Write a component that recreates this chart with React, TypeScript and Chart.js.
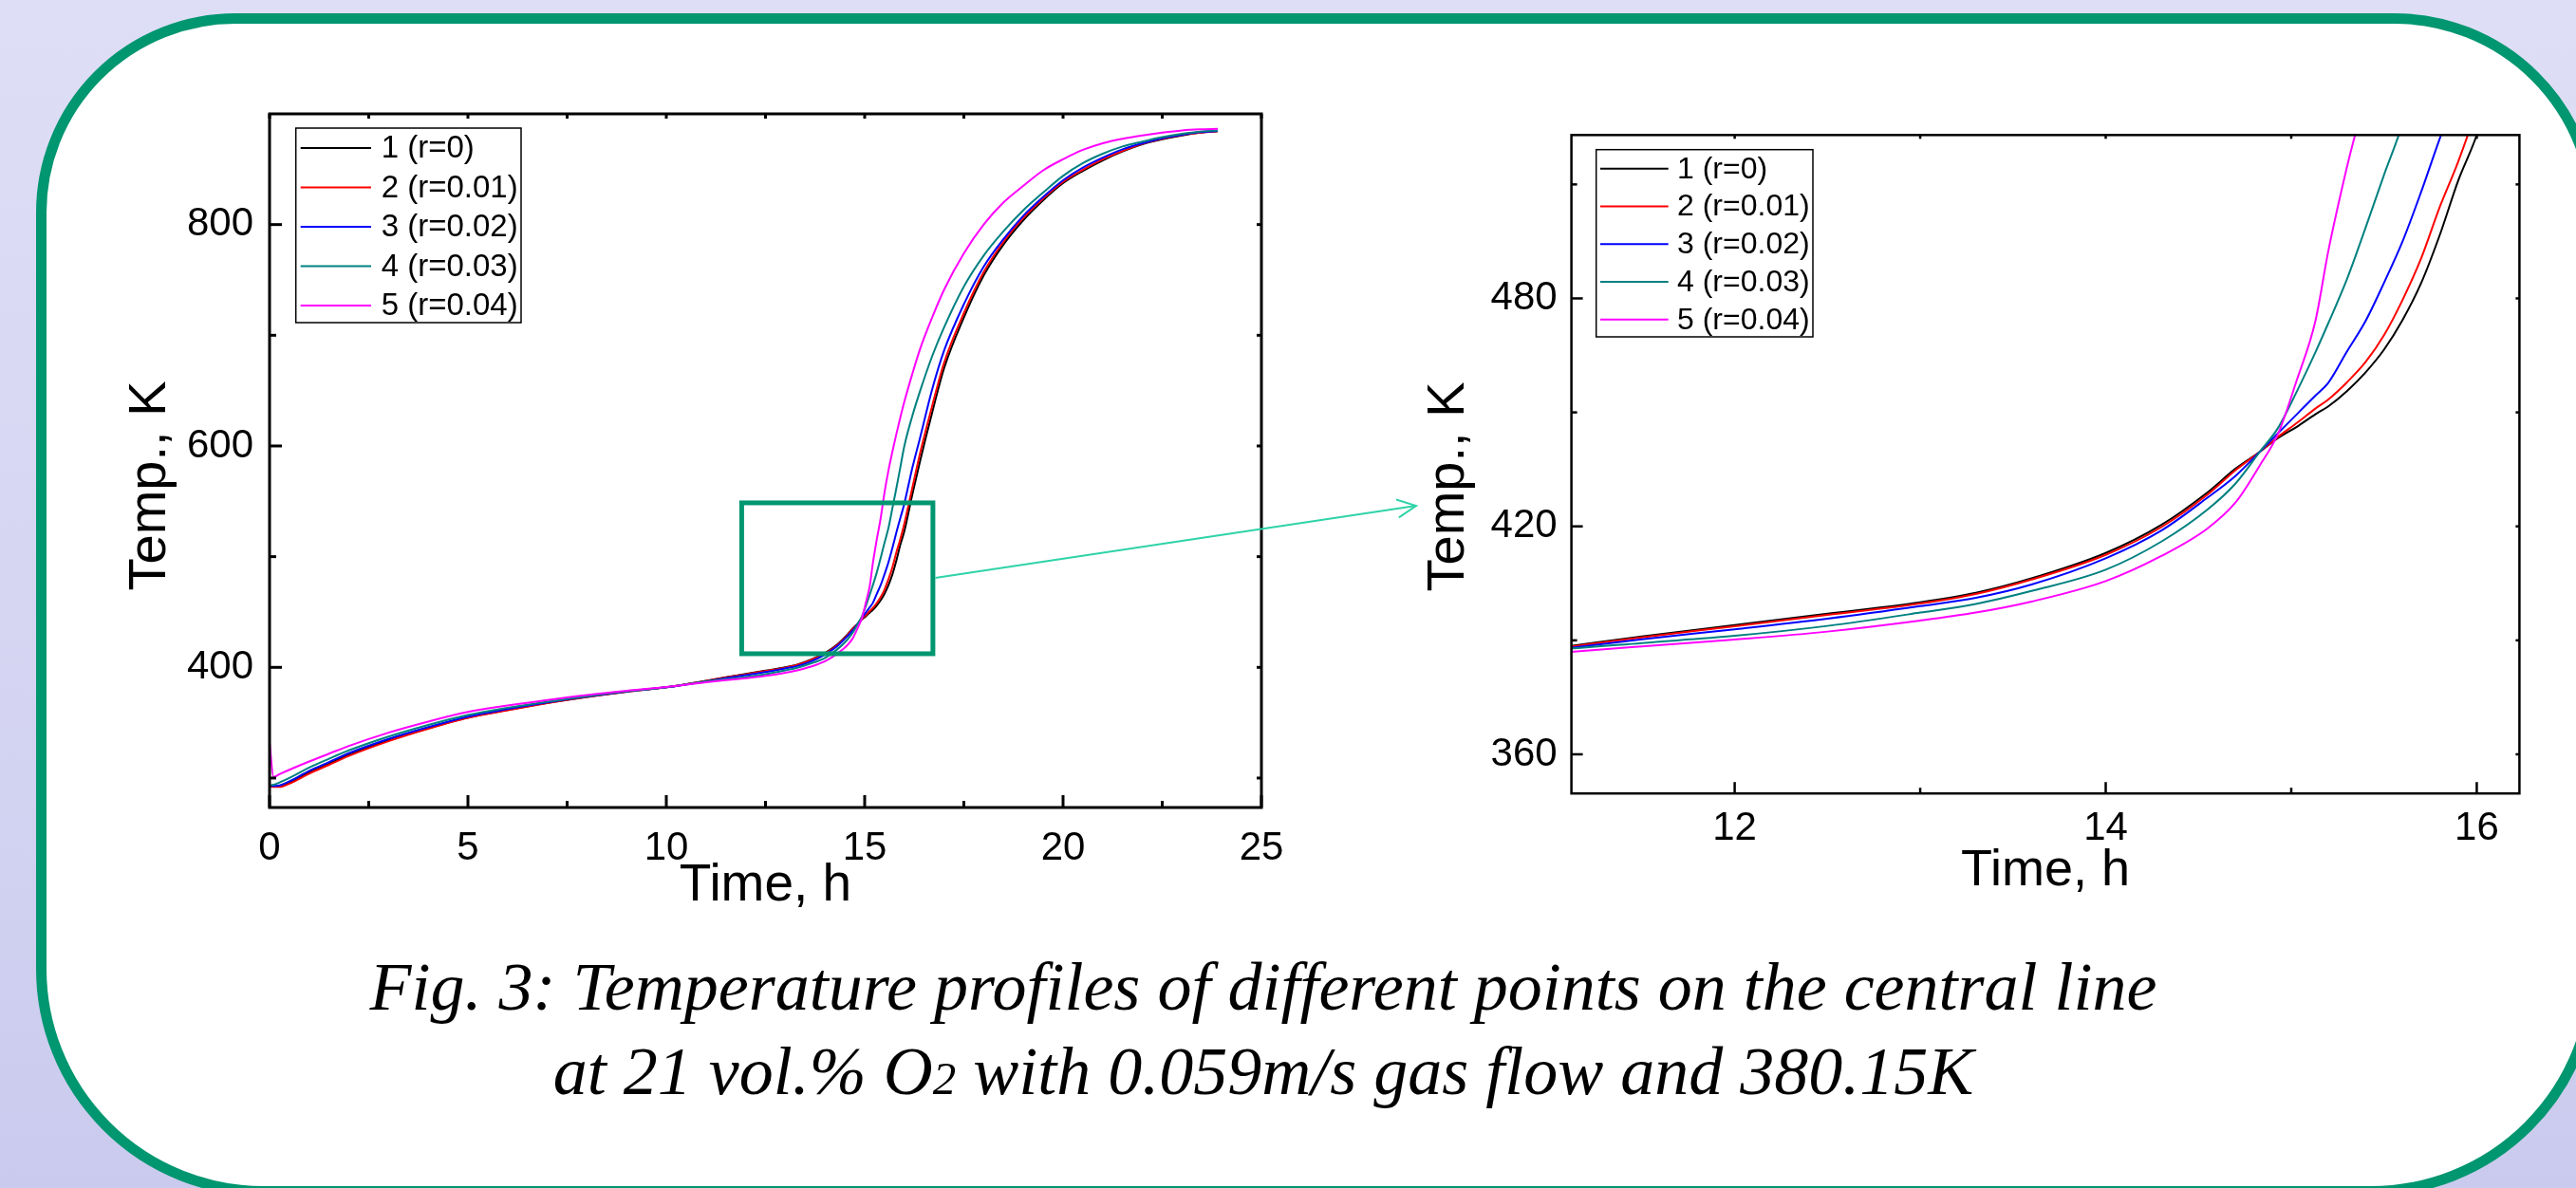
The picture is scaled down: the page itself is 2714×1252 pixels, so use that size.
import React, { useEffect, useRef } from 'react';
import { Chart, registerables } from 'chart.js';

Chart.register(...registerables);

// ---------------- data ----------------
const seriesLabels = ['1 (r=0)', '2 (r=0.01)', '3 (r=0.02)', '4 (r=0.03)', '5 (r=0.04)'];
const seriesColors = ['#000000', '#ff0000', '#0000ff', '#008080', '#ff00ff'];

const timeH = [0, 0.1, 0.25, 0.5, 1, 1.5, 2, 3, 4, 5, 6, 7, 8, 9, 10, 11, 11.5, 12, 12.5, 13, 13.3, 13.6, 14, 14.3, 14.55, 14.7, 14.83, 14.93, 15.03, 15.13, 15.2, 15.3, 15.4, 15.5, 15.6, 15.7, 15.8, 15.9, 16, 16.2, 16.4, 16.7, 17, 17.5, 18, 18.5, 19, 19.5, 20, 20.5, 21, 21.5, 22, 22.5, 23, 23.45, 23.9];

const tempR0 = [293, 292.5, 292.5, 295.5, 305, 313, 321, 334, 345, 354.7, 361.5, 367.8, 373.3, 378, 382, 387.8, 391, 394, 397, 400, 402.5, 406.3, 413, 420.4, 429, 435.2, 439.6, 443.3, 446.2, 449.5, 451.6, 455.6, 460.5, 466.5, 474.3, 484, 496.6, 511, 523, 556, 587, 630, 670, 716, 754, 782, 804, 822, 837.4, 848.5, 858, 866, 872.5, 877, 880.5, 883, 884.3];
const tempR001 = [292.5, 292, 292, 295, 304, 312, 320, 333.3, 344.5, 354.3, 361.2, 367.6, 373.2, 378, 382, 387.6, 390.8, 393.7, 396.7, 399.7, 402.2, 406, 412.5, 419.8, 428.4, 434.8, 439.6, 443.6, 447.2, 451, 453.4, 457.9, 463.2, 470.3, 479.6, 490.5, 504, 516, 530, 562, 594, 636, 675, 720, 757, 784.5, 806, 823.5, 838.5, 849.5, 859, 866.5, 873, 877.5, 881, 883, 884.4];
const tempR002 = [293, 292.8, 293.3, 297, 306.5, 314.5, 322.5, 335.3, 346, 355.5, 362.3, 368.3, 373.6, 378.2, 382, 387.3, 390.3, 392.9, 395.7, 399, 401.2, 404.7, 411.6, 418.9, 427.6, 433.3, 439.6, 444.6, 449.5, 454.4, 457.8, 466, 474, 484.1, 495, 508, 522, 535, 548, 580, 608, 651, 686, 728, 762, 787, 808, 825, 840, 851.5, 860.5, 868, 873.5, 878, 881.2, 883.4, 884.6];
const tempR003 = [293.5, 294, 296, 300, 309.5, 317.5, 325, 337.5, 348, 357, 363.5, 369, 374, 378.3, 382, 387.3, 389.3, 391.2, 393.8, 397.3, 399.6, 403, 408.6, 416, 424.5, 431.3, 439.6, 446, 455.5, 465.8, 473.5, 485, 498.5, 512.5, 526, 544, 562, 581, 600, 627, 650, 681, 707, 744, 772, 794, 813, 829, 844, 855.5, 864, 870.5, 875, 879, 882, 884, 885];
const tempR004 = [332, 301, 303.5, 307.5, 315, 322, 329, 341, 351, 359.7, 365.5, 370.5, 375, 378.8, 382.2, 386.5, 388.4, 390.2, 392.3, 395.2, 397.3, 400.2, 405.6, 412.2, 419.5, 426.3, 436, 444.5, 458.5, 474, 492.5, 514.5, 534, 558, 578, 595, 611, 626, 640, 665, 688, 716, 741, 774, 800, 820, 835, 849, 859, 867.5, 873.5, 877.5, 880.5, 883, 885, 886, 886.5];

const seriesValues = [tempR0, tempR001, tempR002, tempR003, tempR004];

// axes
const leftXRange = [0, 25];
const leftYRange = [273.4, 900];
const leftXTicks = [0, 5, 10, 15, 20, 25];
const leftXMinor = [2.5, 7.5, 12.5, 17.5, 22.5];
const leftYTicks = [400, 600, 800];
const leftYMinor = [300, 500, 700];

const rightXRange = [11.12, 16.23];
const rightYRange = [349.7, 523];
const rightXTicks = [12, 14, 16];
const rightXMinor = [13, 15];
const rightYTicks = [360, 420, 480];
const rightYMinor = [390, 450, 510];

// zoom window marked on the overview chart (time h, temperature K)
const zoomBoxTime = [11.9, 16.72];
const zoomBoxTemp = [412.3, 548.6];
const arrowFromTemp = 480.9;

const xTitle = 'Time, h';
const yTitle = 'Temp., K';
const captionLine1 = 'Fig. 3: Temperature profiles of different points on the central line';
const captionLine2a = 'at 21 vol.% O';
const captionLine2b = '2';
const captionLine2c = ' with 0.059m/s gas flow and 380.15K';

// ---------------- helpers ----------------
const SANS = "'Liberation Sans', Arial, Helvetica, sans-serif";
const GREEN = '#009670';

function buildDatasets() {
  return seriesValues.map((vals, i) => ({
    label: seriesLabels[i],
    data: timeH.map((t, k) => ({ x: t, y: vals[k] })),
    borderColor: seriesColors[i],
    backgroundColor: seriesColors[i],
    borderWidth: 2,
    pointRadius: 0,
    fill: false,
    cubicInterpolationMode: 'monotone' as const,
    clip: 0,
    order: 5 - i,
  }));
}

function framePlugin(cfg: any) {
  return {
    id: 'originFrame',
    afterDatasetsDraw(chart: any) {
      const { ctx, chartArea } = chart;
      const { left, right, top, bottom } = chartArea;
      const xs = chart.scales.x;
      const ys = chart.scales.y;
      ctx.save();
      ctx.strokeStyle = '#000';
      ctx.lineWidth = cfg.lineWidth;
      ctx.lineCap = 'butt';
      ctx.strokeRect(left, top, right - left, bottom - top);
      const seg = (x1: number, y1: number, x2: number, y2: number) => {
        ctx.beginPath();
        ctx.moveTo(x1, y1);
        ctx.lineTo(x2, y2);
        ctx.stroke();
      };
      cfg.xMajor.forEach((v: number) => {
        const p = xs.getPixelForValue(v);
        if (p < left - 1 || p > right + 1) return;
        seg(p, bottom, p, bottom - cfg.major);
        seg(p, top, p, top + cfg.mirror);
      });
      cfg.xMinor.forEach((v: number) => {
        const p = xs.getPixelForValue(v);
        seg(p, bottom, p, bottom - cfg.minor);
        seg(p, top, p, top + cfg.mirror);
      });
      cfg.yMajor.forEach((v: number) => {
        const p = ys.getPixelForValue(v);
        seg(left, p, left + cfg.major, p);
        seg(right, p, right - cfg.mirror, p);
      });
      cfg.yMinor.forEach((v: number) => {
        const p = ys.getPixelForValue(v);
        seg(left, p, left + cfg.minor, p);
        seg(right, p, right - cfg.mirror, p);
      });
      ctx.restore();
    },
  };
}

function legendPlugin(cfg: any) {
  return {
    id: 'boxLegend',
    afterDraw(chart: any) {
      const { ctx, chartArea } = chart;
      const x0 = chartArea.left + cfg.dx;
      const y0 = chartArea.top + cfg.dy;
      ctx.save();
      ctx.fillStyle = '#ffffff';
      ctx.fillRect(x0, y0, cfg.w, cfg.h);
      ctx.strokeStyle = '#000';
      ctx.lineWidth = 1.5;
      ctx.strokeRect(x0, y0, cfg.w, cfg.h);
      ctx.font = `${cfg.fontSize}px ${SANS}`;
      ctx.textBaseline = 'middle';
      ctx.textAlign = 'left';
      chart.data.datasets.forEach((ds: any, i: number) => {
        const yy = y0 + cfg.firstRow + i * cfg.rowGap;
        ctx.strokeStyle = ds.borderColor;
        ctx.lineWidth = 2;
        ctx.beginPath();
        ctx.moveTo(x0 + cfg.lineX0, yy);
        ctx.lineTo(x0 + cfg.lineX1, yy);
        ctx.stroke();
        ctx.fillStyle = '#000';
        ctx.fillText(ds.label, x0 + cfg.textX, yy + 1);
      });
      ctx.restore();
    },
  };
}

function yTitlePlugin(cfg: any) {
  return {
    id: 'yTitle',
    afterDraw(chart: any) {
      const { ctx } = chart;
      ctx.save();
      ctx.translate(cfg.cx, cfg.cy);
      ctx.rotate(-Math.PI / 2);
      ctx.font = `${cfg.fontSize}px ${SANS}`;
      ctx.fillStyle = '#000';
      ctx.textAlign = 'center';
      ctx.textBaseline = 'middle';
      ctx.fillText(cfg.text, 0, 0);
      ctx.restore();
    },
  };
}

function zoomMarkPlugin(cfg: any) {
  return {
    id: 'zoomMark',
    afterDraw(chart: any) {
      const { ctx } = chart;
      const xs = chart.scales.x;
      const ys = chart.scales.y;
      const x1 = xs.getPixelForValue(zoomBoxTime[0]);
      const x2 = xs.getPixelForValue(zoomBoxTime[1]);
      const y1 = ys.getPixelForValue(zoomBoxTemp[1]);
      const y2 = ys.getPixelForValue(zoomBoxTemp[0]);
      ctx.save();
      ctx.strokeStyle = GREEN;
      ctx.lineWidth = 5;
      ctx.strokeRect(x1, y1, x2 - x1, y2 - y1);
      // arrow
      const ax = x2 + 2.5;
      const ay = ys.getPixelForValue(arrowFromTemp);
      const bx = cfg.tipX;
      const by = cfg.tipY;
      ctx.strokeStyle = '#2fd3a8';
      ctx.lineWidth = 2;
      ctx.beginPath();
      ctx.moveTo(ax, ay);
      ctx.lineTo(bx, by);
      ctx.stroke();
      const ang = Math.atan2(by - ay, bx - ax);
      const L = 22;
      ctx.beginPath();
      ctx.moveTo(bx - L * Math.cos(ang - 0.45), by - L * Math.sin(ang - 0.45));
      ctx.lineTo(bx, by);
      ctx.lineTo(bx - L * Math.cos(ang + 0.45), by - L * Math.sin(ang + 0.45));
      ctx.stroke();
      ctx.restore();
    },
  };
}

function makeConfig(p: any) {
  return {
    type: 'line' as const,
    data: { datasets: buildDatasets() },
    options: {
      animation: false as const,
      responsive: false,
      devicePixelRatio: 1,
      events: [],
      layout: { padding: p.padding },
      plugins: { legend: { display: false }, tooltip: { enabled: false }, title: { display: false } },
      scales: {
        x: {
          type: 'linear' as const,
          position: 'bottom' as const,
          min: p.xRange[0],
          max: p.xRange[1],
          grid: { display: false, drawTicks: false },
          border: { display: false },
          afterBuildTicks: (s: any) => {
            s.ticks = p.xTicks.map((v: number) => ({ value: v }));
          },
          afterFit: (s: any) => {
            s.height = p.xHeight;
          },
          ticks: {
            autoSkip: false,
            maxRotation: 0,
            padding: p.tickPadX,
            color: '#000',
            font: { family: SANS, size: p.tickFont },
            callback: (v: any) => String(v),
          },
          title: {
            display: true,
            text: xTitle,
            color: '#000',
            padding: 0,
            font: { family: SANS, size: p.titleFont, lineHeight: 1 },
          },
        },
        y: {
          type: 'linear' as const,
          position: 'left' as const,
          min: p.yRange[0],
          max: p.yRange[1],
          grid: { display: false, drawTicks: false },
          border: { display: false },
          afterBuildTicks: (s: any) => {
            s.ticks = p.yTicks.map((v: number) => ({ value: v }));
          },
          afterFit: (s: any) => {
            s.width = p.yWidth;
          },
          ticks: {
            autoSkip: false,
            padding: p.tickPadY,
            color: '#000',
            font: { family: SANS, size: p.tickFont },
            callback: (v: any) => String(v),
          },
        },
      },
    },
    plugins: p.plugins,
  };
}

export default function App() {
  const leftRef = useRef<HTMLCanvasElement | null>(null);
  const rightRef = useRef<HTMLCanvasElement | null>(null);

  useEffect(() => {
    const leftCfg = makeConfig({
      padding: { left: 0, top: 120, right: 171, bottom: 39 },
      xRange: leftXRange,
      yRange: leftYRange,
      xTicks: leftXTicks,
      yTicks: leftYTicks,
      xHeight: 110,
      yWidth: 284,
      tickPadX: 18,
      tickPadY: 17,
      tickFont: 42,
      titleFont: 55,
      plugins: [
        framePlugin({ lineWidth: 3, major: 13, minor: 7, mirror: 5, xMajor: leftXTicks, xMinor: leftXMinor, yMajor: leftYTicks, yMinor: leftYMinor }),
        zoomMarkPlugin({ tipX: 1492, tipY: 533 }),
        legendPlugin({ dx: 27.7, dy: 15, w: 237.3, h: 205, firstRow: 21, rowGap: 41.5, lineX0: 5, lineX1: 79.3, textX: 90, fontSize: 33 }),
        yTitlePlugin({ cx: 159, cy: 512, fontSize: 56, text: yTitle }),
      ],
    });
    const rightCfg = makeConfig({
      padding: { left: 0, top: 142.3, right: 59.6, bottom: 54.5 },
      xRange: rightXRange,
      yRange: rightYRange,
      xTicks: rightXTicks,
      yTicks: rightYTicks,
      xHeight: 109.3,
      yWidth: 155.6,
      tickPadX: 12,
      tickPadY: 15,
      tickFont: 42,
      titleFont: 54,
      plugins: [
        framePlugin({ lineWidth: 2.5, major: 12, minor: 6, mirror: 4, xMajor: rightXTicks, xMinor: rightXMinor, yMajor: rightYTicks, yMinor: rightYMinor }),
        legendPlugin({ dx: 26.1, dy: 15.4, w: 228.3, h: 197.3, firstRow: 20, rowGap: 39.75, lineX0: 4.3, lineX1: 76, textX: 85.3, fontSize: 32 }),
        yTitlePlugin({ cx: 26.6, cy: 513, fontSize: 56, text: yTitle }),
      ],
    });
    const c1 = new Chart(leftRef.current as HTMLCanvasElement, leftCfg as any);
    const c2 = new Chart(rightRef.current as HTMLCanvasElement, rightCfg as any);
    return () => {
      c1.destroy();
      c2.destroy();
    };
  }, []);

  return (
    <div
      style={{
        position: 'absolute',
        left: 0,
        top: 0,
        width: 2714,
        height: 1252,
        overflow: 'hidden',
        background: 'linear-gradient(180deg, #dedef6 0%, #d4d4f2 60%, #cacaee 100%)',
      }}
    >
      <div
        style={{
          position: 'absolute',
          left: 38,
          top: 14,
          width: 2700,
          height: 1247,
          boxSizing: 'border-box',
          border: `11px solid ${GREEN}`,
          borderRadius: '210px 215px 240px 240px',
          background: '#ffffff',
        }}
      />
      <canvas
        ref={leftRef}
        width={1500}
        height={1000}
        style={{ position: 'absolute', left: 0, top: 0, width: 1500, height: 1000 }}
      />
      <canvas
        ref={rightRef}
        width={1214}
        height={1000}
        style={{ position: 'absolute', left: 1500, top: 0, width: 1214, height: 1000 }}
      />
      <div
        style={{
          position: 'absolute',
          left: 0,
          top: 996,
          width: 2662,
          textAlign: 'center',
          fontFamily: "'Liberation Serif', 'Times New Roman', serif",
          fontStyle: 'italic',
          fontSize: 72,
          lineHeight: '89px',
          color: '#000',
          whiteSpace: 'nowrap',
        }}
      >
        {captionLine1}
        <br />
        {captionLine2a}
        <span style={{ fontSize: '0.68em' }}>{captionLine2b}</span>
        {captionLine2c}
      </div>
    </div>
  );
}
